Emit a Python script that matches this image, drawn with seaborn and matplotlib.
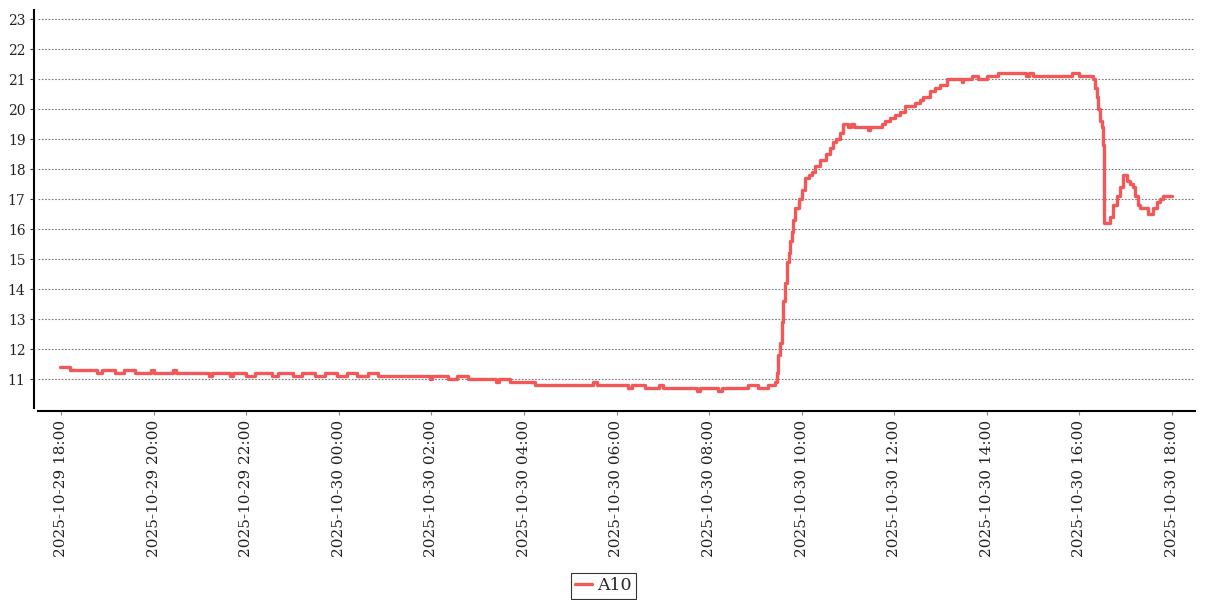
import numpy as np
import pandas as pd
import matplotlib
matplotlib.use("Agg")
import matplotlib.pyplot as plt
import matplotlib.dates as mdates
import seaborn as sns

# change points of the A10 series (step-post)
times_day1 = ["17:58", "18:12", "18:47", "18:53", "19:10", "19:22", "19:36", "19:57",
              "20:01", "20:25", "20:29", "21:12", "21:16", "21:39", "21:43", "22:00",
              "22:11", "22:33", "22:41", "23:01", "23:12", "23:29", "23:42", "23:58"]
values_day1 = [11.4, 11.3, 11.2, 11.3, 11.2, 11.3, 11.2, 11.3,
               11.2, 11.3, 11.2, 11.1, 11.2, 11.1, 11.2, 11.1,
               11.2, 11.1, 11.2, 11.1, 11.2, 11.1, 11.2, 11.1]

times_day2 = ["00:11", "00:24", "00:38", "00:51", "01:58", "02:01", "02:22", "02:33",
              "02:48", "03:24", "03:28", "03:42", "04:14", "05:30", "05:35", "06:15",
              "06:20", "06:37", "06:55", "07:00", "07:44", "07:48", "08:12", "08:17",
              "08:51", "09:04", "09:16", "09:26",
              "09:28", "09:30", "09:32", "09:34", "09:36", "09:38", "09:41", "09:43",
              "09:45", "09:47", "09:49", "09:51", "09:56", "10:00", "10:04", "10:09",
              "10:13", "10:17", "10:24", "10:32", "10:37", "10:41", "10:45", "10:50",
              "10:54", "11:00", "11:04", "11:08", "11:26", "11:29", "11:44", "11:48",
              "11:54", "12:01", "12:07", "12:14", "12:27", "12:33", "12:37", "12:46",
              "12:53", "12:59", "13:08", "13:28", "13:29", "13:41", "13:49", "14:00",
              "14:14", "14:51", "14:55", "15:00", "15:50", "15:59", "16:18", "16:20",
              "16:23", "16:24", "16:27", "16:29", "16:31", "16:32", "16:40", "16:44",
              "16:49", "16:53", "16:57", "17:02", "17:06", "17:10", "17:12", "17:16",
              "17:19", "17:29", "17:35", "17:41", "17:45", "17:48", "18:00"]
values_day2 = [11.2, 11.1, 11.2, 11.1, 11.0, 11.1, 11.0, 11.1,
               11.0, 10.9, 11.0, 10.9, 10.8, 10.9, 10.8, 10.7,
               10.8, 10.7, 10.8, 10.7, 10.6, 10.7, 10.6, 10.7,
               10.8, 10.7, 10.8, 10.9,
               11.2, 11.8, 12.2, 12.9, 13.6, 14.2, 14.9, 15.2,
               15.6, 15.9, 16.3, 16.7, 17.0, 17.3, 17.7, 17.8,
               17.9, 18.1, 18.3, 18.5, 18.7, 18.9, 19.0, 19.2,
               19.5, 19.4, 19.5, 19.4, 19.3, 19.4, 19.5, 19.6,
               19.7, 19.8, 19.9, 20.1, 20.2, 20.3, 20.4, 20.6,
               20.7, 20.8, 21.0, 20.9, 21.0, 21.1, 21.0, 21.1,
               21.2, 21.1, 21.2, 21.1, 21.2, 21.1, 21.0, 20.7,
               20.4, 20.0, 19.6, 19.4, 18.8, 16.2, 16.4, 16.8,
               17.1, 17.4, 17.8, 17.6, 17.5, 17.4, 17.1, 16.8,
               16.7, 16.5, 16.7, 16.9, 17.0, 17.1, 17.1]

y_ticks = list(range(11, 24))

df = pd.DataFrame({
    "time": pd.to_datetime(["2025-10-29 " + t for t in times_day1] +
                           ["2025-10-30 " + t for t in times_day2]),
    "value": values_day1 + values_day2,
})

sns.set_theme(style="white")
plt.rcParams["font.family"] = ["DejaVu Serif"]

fig = plt.figure(figsize=(12.07, 6.0), dpi=100)
ax = fig.add_axes([38 / 1207, 1 - 408 / 600, (1195 - 38) / 1207, 398 / 600])

sns.lineplot(data=df, x="time", y="value", ax=ax, color="#f25858", linewidth=2.4,
             drawstyle="steps-post", label="A10")

ax.set_xlim(pd.Timestamp("2025-10-29 17:30"), pd.Timestamp("2025-10-30 18:30"))
ax.set_ylim(10.05, 23.3)
ax.set_yticks(y_ticks)
ax.xaxis.set_major_locator(mdates.HourLocator(byhour=range(0, 24, 2)))
ax.xaxis.set_major_formatter(mdates.DateFormatter("%Y-%m-%d %H:%M"))
ax.tick_params(axis="x", labelsize=11, labelrotation=90, length=3, width=0.8,
               color="#888888", pad=3, bottom=True, labelcolor="#222222")
ax.tick_params(axis="y", labelsize=10, length=3, width=0.8, color="#333333", pad=3,
               left=True, labelcolor="#222222")

ax.grid(axis="y", color="#777777", linestyle=(0, (1.5, 1.5)), linewidth=0.8)
ax.grid(axis="x", visible=False)
ax.set_xlabel("")
ax.set_ylabel("")

for side in ("top", "right"):
    ax.spines[side].set_visible(False)
ax.spines["left"].set_position(("outward", 3))
ax.spines["bottom"].set_position(("outward", 2.5))
ax.spines["left"].set_color("black")
ax.spines["bottom"].set_color("black")
ax.spines["left"].set_linewidth(1.5)
ax.spines["bottom"].set_linewidth(1.5)

handles, labels = ax.get_legend_handles_labels()
ax.get_legend().remove()
leg = fig.legend(handles, labels, loc="lower center", bbox_to_anchor=(0.5, 0.002),
                 fontsize=12.5, frameon=True, fancybox=False, edgecolor="black",
                 handlelength=1.0, handletextpad=0.3, borderpad=0.25, borderaxespad=0)
leg.get_frame().set_linewidth(0.8)

fig.savefig("out.png", dpi=100)
